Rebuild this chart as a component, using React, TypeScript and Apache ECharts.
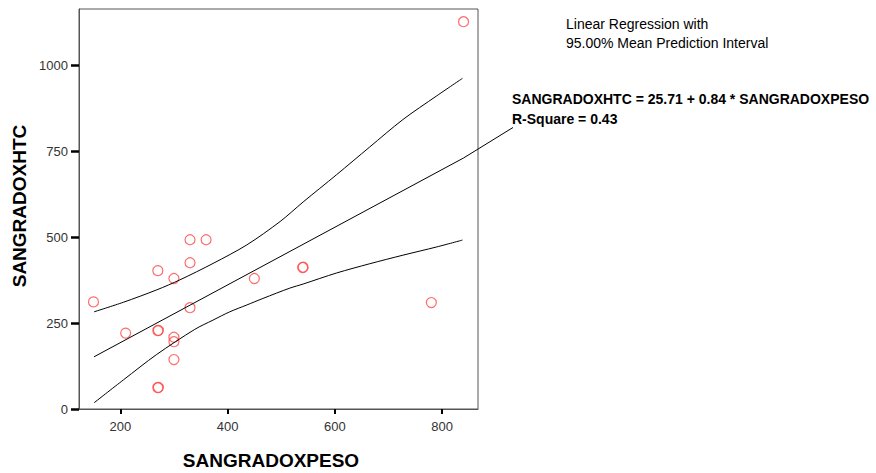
import React, { useEffect, useRef } from "react";
import * as echarts from "echarts";

// Observed data points (SANGRADOXPESO, SANGRADOXHTC)
const pesoValues = [150, 210, 270, 300, 330, 360, 330, 330, 270, 271, 300, 300, 300, 270, 271, 450, 540, 541, 780, 840];
const htcValues = [312, 221, 403, 380, 493, 493, 426, 295, 228, 229, 209, 196, 144, 62, 63, 380, 412, 413, 310, 1128];

// Fitted regression line
const fitX = [151, 840];
const fitY = [152, 731];

// 95% mean prediction interval bounds
const upperX = [151, 206, 268, 311, 373, 436, 498, 541, 603, 665, 727, 790, 838];
const upperY = [283, 311, 347, 376, 424, 478, 546, 603, 682, 763, 843, 912, 963];
const lowerX = [151, 206, 268, 339, 373, 404, 436, 466, 516, 541, 603, 665, 727, 790, 838];
const lowerY = [18, 85, 159, 232, 259, 283, 303, 322, 352, 364, 396, 423, 448, 472, 492];

const xTicks = [200, 400, 600, 800];
const yTicks = [0, 250, 500, 750, 1000];

const legendLines = ["Linear Regression with", "95.00% Mean Prediction Interval"];
const equationLines = ["SANGRADOXHTC = 25.71 + 0.84 * SANGRADOXPESO", "R-Square = 0.43"];

const FONT = "Arial, 'Liberation Sans', sans-serif";

const zip = (xs: number[], ys: number[]) => xs.map((x, i) => [x, ys[i]]);

export default function App() {
  const ref = useRef<HTMLDivElement>(null);

  useEffect(() => {
    if (!ref.current) return;
    const chart = echarts.init(ref.current, undefined, { renderer: "svg" });
    const option: any = {
      animation: false,
      backgroundColor: "#ffffff",
      grid: {
        left: 79,
        top: 9,
        width: 399,
        height: 400,
        show: true,
        borderColor: "#555555",
        borderWidth: 1,
        backgroundColor: "transparent",
      },
      xAxis: {
        type: "value",
        min: 123,
        max: 867,
        axisLine: { show: true, lineStyle: { color: "#555555", width: 1 } },
        axisTick: {
          show: true,
          customValues: xTicks,
          length: 5,
          inside: false,
          lineStyle: { color: "#000000", width: 2 },
        },
        axisLabel: {
          customValues: xTicks,
          formatter: (v: number) => String(v),
          color: "#333333",
          fontSize: 13,
          fontFamily: FONT,
          margin: 11,
        },
        splitLine: { show: false },
      },
      yAxis: {
        type: "value",
        min: 0,
        max: 1165,
        axisLine: { show: true, lineStyle: { color: "#555555", width: 1 } },
        axisTick: {
          show: true,
          customValues: yTicks,
          length: 8,
          inside: false,
          lineStyle: { color: "#000000", width: 2.5 },
        },
        axisLabel: {
          customValues: yTicks,
          formatter: (v: number) => String(v),
          color: "#333333",
          fontSize: 13,
          fontFamily: FONT,
          margin: 11,
        },
        splitLine: { show: false },
      },
      series: [
        {
          type: "line",
          data: zip(upperX, upperY),
          smooth: 0.3,
          showSymbol: false,
          lineStyle: { color: "#000000", width: 1 },
          silent: true,
        },
        {
          type: "line",
          data: zip(fitX, fitY),
          showSymbol: false,
          lineStyle: { color: "#000000", width: 1 },
          silent: true,
        },
        {
          type: "line",
          data: zip(lowerX, lowerY),
          smooth: 0.3,
          showSymbol: false,
          lineStyle: { color: "#000000", width: 1 },
          silent: true,
        },
        {
          type: "scatter",
          data: zip(pesoValues, htcValues),
          symbol: "circle",
          symbolSize: 10,
          itemStyle: { color: "rgba(0,0,0,0)", borderColor: "#ff4848", borderWidth: 1.2 },
        },
      ],
    };
    chart.setOption(option);

    const start = chart.convertToPixel({ gridIndex: 0 }, [fitX[1], fitY[1]]) as number[];
    const labelX = 512;
    const labelY = 98.5;
    chart.setOption({
      graphic: [
        {
          type: "line",
          shape: { x1: start[0], y1: start[1], x2: labelX + 1, y2: labelY + 29 },
          style: { stroke: "#000000", lineWidth: 1 },
        },
        {
          type: "text",
          x: 271,
          y: 460,
          style: {
            text: "SANGRADOXPESO",
            font: `bold 19px ${FONT}`,
            fill: "#000000",
            textAlign: "center",
            textVerticalAlign: "middle",
          },
        },
        {
          type: "text",
          x: 19,
          y: 206,
          rotation: Math.PI / 2,
          style: {
            text: "SANGRADOXHTC",
            font: `bold 19px ${FONT}`,
            fill: "#000000",
            textAlign: "center",
            textVerticalAlign: "middle",
          },
        },
        ...legendLines.map((t, i) => ({
          type: "text",
          x: 566,
          y: 24 + i * 19,
          style: {
            text: t,
            font: `14px ${FONT}`,
            fill: "#000000",
            textAlign: "left",
            textVerticalAlign: "middle",
          },
        })),
        ...equationLines.map((t, i) => ({
          type: "text",
          x: labelX,
          y: labelY + i * 20.5,
          style: {
            text: t,
            font: `bold 14px ${FONT}`,
            fill: "#000000",
            textAlign: "left",
            textVerticalAlign: "middle",
          },
        })),
      ],
    });

    return () => chart.dispose();
  }, []);

  return (
    <div
      ref={ref}
      style={{ position: "fixed", left: 0, top: 0, width: 876, height: 473 }}
    />
  );
}
